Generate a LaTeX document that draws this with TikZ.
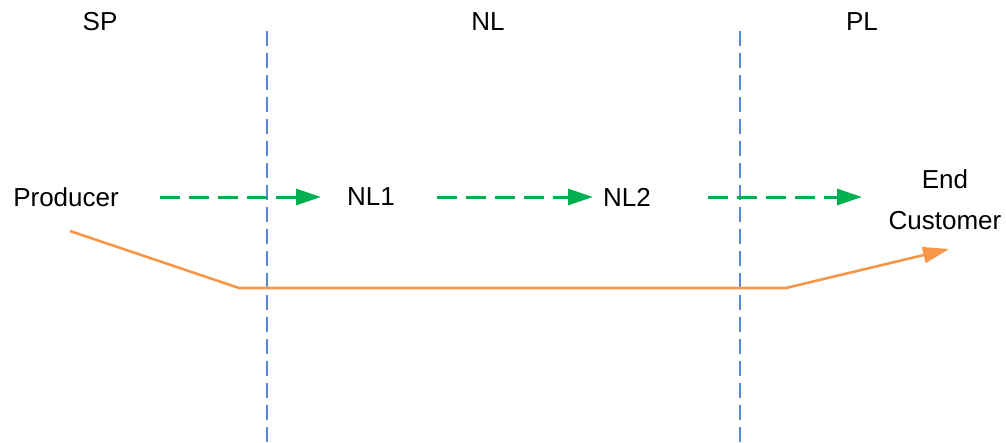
\documentclass[tikz,border=0pt]{standalone}
\usepackage{fontspec}
\setmainfont{Liberation Sans}
\usetikzlibrary{arrows.meta}
\definecolor{vblue}{HTML}{5589D3}
\definecolor{fgreen}{HTML}{00B050}
\definecolor{porange}{HTML}{F79646}
\tikzset{
  lbl/.style={font=\fontsize{26}{31}\selectfont, inner sep=0pt, text=black},
  divider/.style={draw=vblue, line width=2pt, dash pattern=on 15pt off 7pt},
  flowarrow/.style={draw=fgreen, line width=3pt, dash pattern=on 20pt off 9pt,
    -{Triangle[length=25pt,width=16pt]}},
  pathline/.style={draw=porange, line width=2.6pt, line join=miter,
    -{Triangle[length=26pt,width=16pt]}}
}
\begin{document}
\begin{tikzpicture}[x=1pt,y=-1pt]
\useasboundingbox (0,0) rectangle (1006,442);
% zone labels
\node[lbl] (sp) at (100,22) {SP};
\node[lbl] (nl) at (488,22) {NL};
\node[lbl] (pl) at (862,22) {PL};
% dividers
\coordinate (d1t) at (267,31);
\coordinate (d1b) at (267,442);
\coordinate (d2t) at (740,31);
\coordinate (d2b) at (740,442);
\draw[divider] (d1t) -- (d1b);
\draw[divider] (d2t) -- (d2b);
% nodes
\node[lbl] (prod) at (66,197) {Producer};
\node[lbl] (nl1) at (371,197) {NL1};
\node[lbl] (nl2) at (627,197) {NL2};
\node[lbl, align=center, font=\fontsize{26}{41}\selectfont] (cust) at (945,200) {End\\Customer};
% green flow arrows
\coordinate (g1s) at (160,197); \coordinate (g1e) at (321,197);
\coordinate (g2s) at (437,197); \coordinate (g2e) at (593,197);
\coordinate (g3s) at (708,197); \coordinate (g3e) at (862,197);
\draw[flowarrow] (g1s) -- (g1e);
\draw[flowarrow] (g2s) -- (g2e);
\draw[flowarrow] (g3s) -- (g3e);
% orange path
\coordinate (o1) at (70,231);
\coordinate (o2) at (239,288);
\coordinate (o3) at (786,288);
\coordinate (o4) at (949,249);
\draw[pathline] (o1) -- (o2) -- (o3) -- (o4);
\end{tikzpicture}
\end{document}
